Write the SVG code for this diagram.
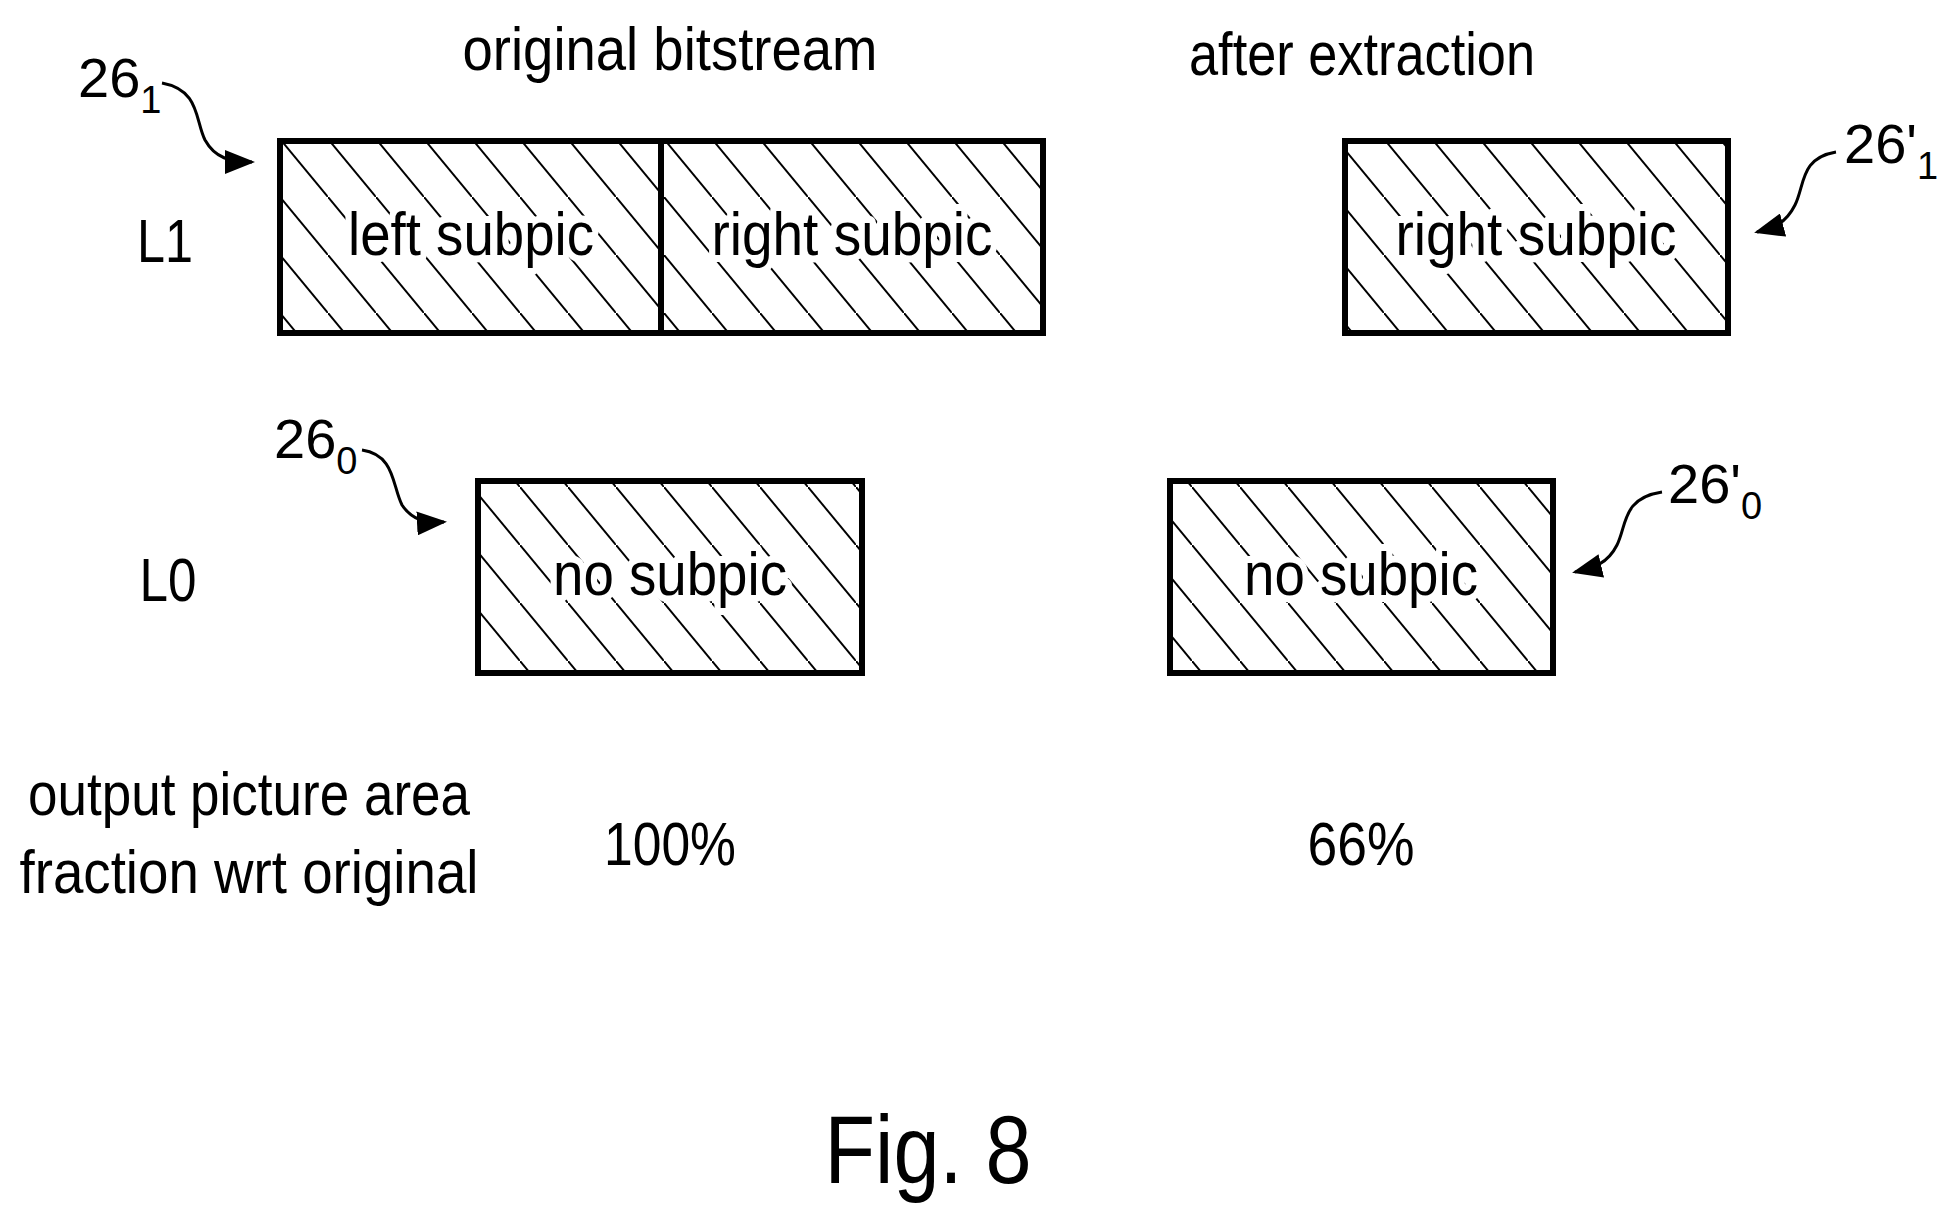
<svg xmlns="http://www.w3.org/2000/svg" width="1937" height="1214" viewBox="0 0 1937 1214">
<style>
text{font-family:"Liberation Sans Narrow","Liberation Sans",Arial,sans-serif;fill:#000}
.t{font-size:62px;text-anchor:middle}
.lbl{font-size:62px;text-anchor:middle;stroke:#fff;stroke-width:14px;paint-order:stroke;stroke-linejoin:round}
.box{fill:url(#hatch);stroke:#000;stroke-width:6}
.arr{fill:none;stroke:#000;stroke-width:3;marker-end:url(#ah)}
</style>
<defs>
<pattern id="hatch" patternUnits="userSpaceOnUse" width="48" height="58" x="280" y="139">
<rect width="48" height="58" fill="#fff"/>
<line x1="0" y1="0" x2="48" y2="58" stroke="#000" stroke-width="2"/>
<line x1="-48" y1="-58" x2="0" y2="0" stroke="#000" stroke-width="2"/>
<line x1="48" y1="58" x2="96" y2="116" stroke="#000" stroke-width="2"/>
</pattern>
<marker id="ah" markerWidth="10" markerHeight="8" refX="9" refY="4" orient="auto" markerUnits="strokeWidth">
<path d="M0,0 L10,4 L0,8 z" fill="#000"/>
</marker>
</defs>
<rect width="1937" height="1214" fill="#fff"/>
<text class="t" x="670" y="70" textLength="415" lengthAdjust="spacingAndGlyphs">original bitstream</text>
<text class="t" x="1362" y="75" textLength="346" lengthAdjust="spacingAndGlyphs">after extraction</text>
<text class="t" x="165" y="262" textLength="56" lengthAdjust="spacingAndGlyphs">L1</text>
<text class="t" x="168" y="601" textLength="57" lengthAdjust="spacingAndGlyphs">L0</text>
<g id="n_left"><rect class="box" x="280" y="141" width="381" height="192"/><text class="lbl" x="471" y="255" textLength="246" lengthAdjust="spacingAndGlyphs">left subpic</text></g>
<g id="n_right"><rect class="box" x="661" y="141" width="382" height="192"/><text class="lbl" x="852" y="255" textLength="281" lengthAdjust="spacingAndGlyphs">right subpic</text></g>
<g id="n_right2"><rect class="box" x="1345" y="141" width="383" height="192"/><text class="lbl" x="1536" y="255" textLength="281" lengthAdjust="spacingAndGlyphs">right subpic</text></g>
<g id="n_l0"><rect class="box" x="478" y="481" width="384" height="192"/><text class="lbl" x="670" y="595" textLength="234" lengthAdjust="spacingAndGlyphs">no subpic</text></g>
<g id="n_l0b"><rect class="box" x="1170" y="481" width="383" height="192"/><text class="lbl" x="1361" y="595" textLength="234" lengthAdjust="spacingAndGlyphs">no subpic</text></g>
<g id="refs">
<text x="78" y="97" font-size="56">26<tspan font-size="38" dy="16">1</tspan></text>
<text x="274" y="458" font-size="56">26<tspan font-size="38" dy="16">0</tspan></text>
<text x="1844" y="163" font-size="56">26'<tspan font-size="38" dy="16">1</tspan></text>
<text x="1668" y="503" font-size="56">26'<tspan font-size="38" dy="16">0</tspan></text>
</g>
<g id="connectors">
<path class="arr" d="M162,83 C200,90 195,120 205,140 C215,158 230,162 252,162"/>
<path class="arr" d="M362,450 C395,455 392,485 402,505 C412,520 425,523 444,522"/>
<path class="arr" d="M1836,152 C1800,158 1805,185 1795,205 C1785,225 1772,228 1757,232"/>
<path class="arr" d="M1662,492 C1622,498 1627,525 1617,545 C1607,565 1592,568 1575,572"/>
</g>
<text class="t" x="249" y="815" textLength="442" lengthAdjust="spacingAndGlyphs">output picture area</text>
<text class="t" x="249" y="893" textLength="459" lengthAdjust="spacingAndGlyphs">fraction wrt original</text>
<text class="t" x="670" y="865" textLength="132" lengthAdjust="spacingAndGlyphs">100%</text>
<text class="t" x="1361" y="865" textLength="107" lengthAdjust="spacingAndGlyphs">66%</text>
<text class="t" x="928" y="1183" style="font-size:96px" textLength="207" lengthAdjust="spacingAndGlyphs">Fig. 8</text>
</svg>
